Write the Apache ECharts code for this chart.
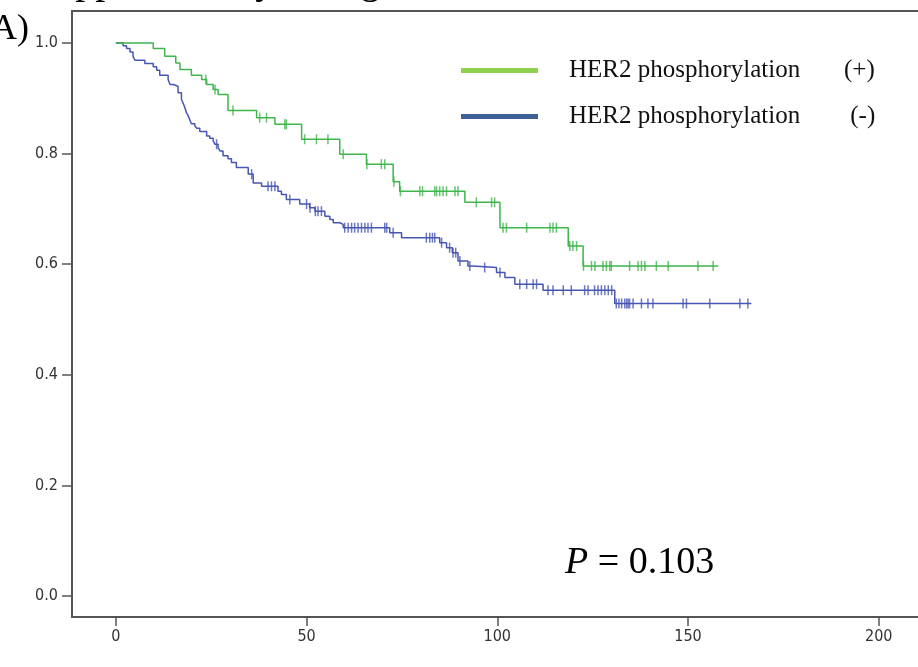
<!DOCTYPE html>
<html>
<head>
<meta charset="utf-8">
<script src="https://cdn.jsdelivr.net/npm/echarts@6/dist/echarts.min.js"></script>
<style>
html,body{margin:0;padding:0;background:#fff;}
#chart{width:918px;height:667px;}
</style>
</head>
<body>
<div id="chart"></div>
<script>
// ---- data (time in months, cumulative survival) ----
const xTicks = [0, 50, 100, 150, 200];
const yTicks = [0, 0.2, 0.4, 0.6, 0.8, 1.0];
const seriesNames = ['HER2 phosphorylation       (+)', 'HER2 phosphorylation        (-)'];

const greenSteps = [[0,1.0],[9.8,0.990],[12.8,0.976],[15.7,0.964],[16.8,0.952],[19.8,0.942],[22.5,0.934],[23.8,0.925],[25.5,0.916],[26.8,0.907],[29.4,0.878],[36.9,0.865],[41.7,0.853],[48.7,0.826],[58.7,0.799],[65.7,0.781],[72.7,0.749],[74.4,0.732],[91.5,0.712],[100.7,0.666],[118.6,0.633],[122.5,0.597]];
const greenEnd = 157.9;
const greenCensor = [23.6,26.0,30.7,37.7,39.5,44.3,44.7,49.5,52.6,55.6,59.6,65.8,69.6,70.5,72.9,74.6,79.7,80.4,83.6,84.1,84.9,85.8,86.7,88.9,89.7,94.5,98.5,99.3,101.5,102.4,107.7,113.8,114.6,115.5,119.0,119.8,120.8,122.6,124.7,125.6,127.7,128.6,129.5,129.9,134.7,136.9,137.8,138.7,141.7,144.8,152.6,156.6];

const blueSteps = [[0,1.0],[1.9,0.995],[2.8,0.990],[3.7,0.984],[4.5,0.976],[5.0,0.969],[7.6,0.963],[9.8,0.957],[10.7,0.951],[11.5,0.942],[13.7,0.934],[14.2,0.925],[15.0,0.922],[16.3,0.910],[17.2,0.898],[17.6,0.892],[18.1,0.883],[18.5,0.874],[19.0,0.868],[19.4,0.861],[19.8,0.854],[20.7,0.850],[21.2,0.846],[22.0,0.840],[23.8,0.832],[24.6,0.828],[25.5,0.823],[26.0,0.817],[26.8,0.811],[27.3,0.805],[28.1,0.796],[29.4,0.791],[30.3,0.784],[31.6,0.775],[34.7,0.763],[36.0,0.747],[38.2,0.741],[42.5,0.732],[43.4,0.726],[44.7,0.717],[48.2,0.709],[50.8,0.702],[52.2,0.696],[54.8,0.687],[56.1,0.681],[57.0,0.675],[58.7,0.672],[59.6,0.666],[71.8,0.657],[74.9,0.648],[84.9,0.639],[86.7,0.630],[88.2,0.621],[89.7,0.606],[92.3,0.597],[93.6,0.594],[99.8,0.585],[102.0,0.576],[104.6,0.564],[112.0,0.553],[130.8,0.529]];
const blueEnd = 166.6;
const blueCensor = [26.4,35.6,39.9,40.8,41.7,45.6,50.0,50.9,52.3,53.0,53.9,60.0,60.9,61.8,62.6,63.5,64.4,65.3,66.1,67.0,70.5,71.0,72.7,81.4,82.3,83.0,83.6,85.4,87.5,88.4,89.1,90.2,92.8,96.7,100.7,105.9,107.7,109.4,110.3,113.3,114.6,117.3,119.4,122.9,123.8,125.5,126.4,127.3,128.2,129.1,130.0,131.2,131.9,132.6,133.4,133.9,134.3,134.7,135.6,137.8,139.5,140.8,148.7,149.6,155.7,163.6,165.7];

const pValueText = '0.103';

// ---- helpers ----
function survAt(steps, t) {
  let s = steps[0][1];
  for (const p of steps) { if (p[0] <= t) s = p[1]; else break; }
  return s;
}
function curve(steps, end) {
  return steps.concat([[end, steps[steps.length - 1][1]]]);
}
function censorPts(steps, times) {
  return times.map(t => [t, survAt(steps, t)]);
}

const greenCol = '#3fb54a';
const blueCol = '#4656b2';
const legendGreen = '#8fd14f';
const legendBlue = '#3d6096';
const axisCol = '#555';
const labelFont = '"Liberation Sans Narrow","DejaVu Sans Condensed","Liberation Sans",sans-serif';

const chart = echarts.init(document.getElementById('chart'), null, {renderer: 'canvas'});
chart.setOption({
  animation: false,
  backgroundColor: '#fff',
  grid: {left: 72, right: 0, top: 11, bottom: 50, containLabel: false},
  legend: {
    orient: 'vertical',
    left: 456,
    top: 53,
    itemWidth: 77,
    itemHeight: 5,
    itemGap: 21,
    icon: 'rect',
    selectedMode: false,
    textStyle: {fontFamily: '"Liberation Serif","Times New Roman",serif', fontSize: 25, color: '#111', padding: [4, 0, 0, 26]},
    data: [
      {name: seriesNames[0], itemStyle: {color: legendGreen}},
      {name: seriesNames[1], itemStyle: {color: legendBlue}}
    ]
  },
  xAxis: [{
    type: 'value',
    min: -11.5,
    max: 210.3,
    position: 'bottom',
    splitLine: {show: false},
    axisLine: {show: true, onZero: false, lineStyle: {color: axisCol, width: 2}},
    axisTick: {show: true, length: 9, customValues: xTicks, lineStyle: {color: axisCol, width: 1.5}},
    axisLabel: {customValues: xTicks, margin: 12, fontFamily: labelFont, fontSize: 16, color: '#333'}
  }, {
    type: 'value',
    min: -11.5,
    max: 210.3,
    position: 'top',
    splitLine: {show: false},
    axisLine: {show: true, onZero: false, lineStyle: {color: axisCol, width: 2}},
    axisTick: {show: false},
    axisLabel: {show: false}
  }],
  yAxis: {
    type: 'value',
    min: -0.038,
    max: 1.058,
    splitLine: {show: false},
    axisLine: {show: true, onZero: false, lineStyle: {color: axisCol, width: 2}},
    axisTick: {show: true, length: 10, customValues: yTicks, lineStyle: {color: axisCol, width: 1.5}},
    axisLabel: {customValues: yTicks, margin: 14, formatter: v => v.toFixed(1), fontFamily: labelFont, fontSize: 16, color: '#333'}
  },
  graphic: [
    {type: 'text', left: -9, top: 12, style: {text: 'A)', font: '36px "Liberation Serif", serif', fill: '#000'}},
    {type: 'text', left: 33, top: -38, style: {text: 'Supplementary', font: '40px "Liberation Serif", serif', fill: '#000'}},
    {type: 'text', left: 327, top: -38, style: {text: 'Figure', font: '40px "Liberation Serif", serif', fill: '#000'}},
    {type: 'text', left: 565, top: 544, style: {
      text: '{i|P} = ' + pValueText,
      font: '38px "Liberation Serif", serif', fill: '#000',
      rich: {i: {fontStyle: 'italic', fontFamily: '"Liberation Serif", serif', fontSize: 38}}
    }}
  ],
  series: [
    {name: seriesNames[0], type: 'line', step: 'end', data: curve(greenSteps, greenEnd), symbol: 'none',
     lineStyle: {color: greenCol, width: 1.5}, itemStyle: {color: legendGreen}, z: 3},
    {name: seriesNames[1], type: 'line', step: 'end', data: curve(blueSteps, blueEnd), symbol: 'none',
     lineStyle: {color: blueCol, width: 1.5}, itemStyle: {color: legendBlue}, z: 2},
    {name: 'censorG', type: 'scatter', data: censorPts(greenSteps, greenCensor), symbol: 'rect', symbolSize: [1.5, 10],
     itemStyle: {color: greenCol}, z: 4},
    {name: 'censorB', type: 'scatter', data: censorPts(blueSteps, blueCensor), symbol: 'rect', symbolSize: [1.5, 10],
     itemStyle: {color: blueCol}, z: 4}
  ]
});
</script>
</body>
</html>
